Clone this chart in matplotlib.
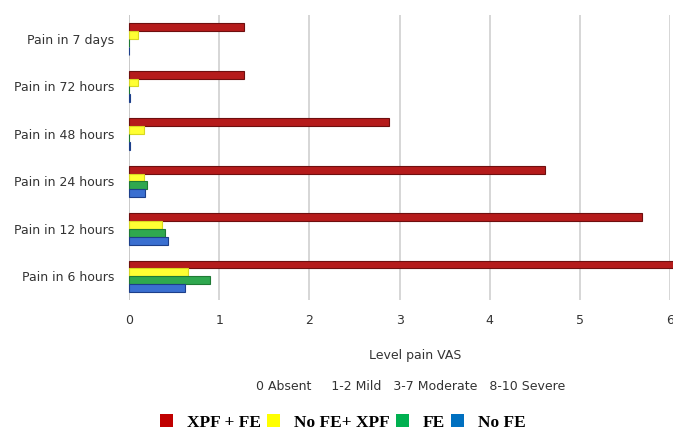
import numpy as np
import matplotlib.pyplot as plt
from matplotlib.patches import Patch

categories = ["Pain in 6 hours", "Pain in 12 hours", "Pain in 24 hours",
              "Pain in 48 hours", "Pain in 72 hours", "Pain in 7 days"]
series = ["XPF + FE", "No FE+ XPF", "FE", "No FE"]
xpf_fe = [6.1, 5.69, 4.61, 2.88, 1.27, 1.27]
no_fe_xpf = [0.65, 0.36, 0.16, 0.16, 0.10, 0.10]
fe = [0.90, 0.40, 0.20, 0.0, 0.0, 0.0]
no_fe = [0.62, 0.43, 0.17, 0.01, 0.01, 0.0]
ticks = [0, 1, 2, 3, 4, 5, 6]

colors = ["#b51b1b", "#ffff33", "#2fa84f", "#3a6fd0"]
edges = ["#6e0f0f", "#d8d820", "#1f7a35", "#1d3f8a"]
legend_colors = ["#c00000", "#ffff00", "#00b050", "#0070c0"]

fig = plt.figure(figsize=(6.73, 4.33), dpi=100)
ax = fig.add_axes([0.192, 0.307, 0.8035, 0.658])

y = np.arange(len(categories))
h = 0.165
values = [xpf_fe, no_fe_xpf, fe, no_fe]
offsets = [1.5, 0.5, -0.5, -1.5]
for vals, off, c, ec in zip(values, offsets, colors, edges):
    ax.barh(y + off * h, vals, height=h, color=c, edgecolor=ec,
            linewidth=0.8, clip_on=False, zorder=3)

ax.set_xlim(0, 6)
ax.set_ylim(-0.5, 5.5)
ax.set_xticks(ticks)
ax.set_yticks(y)
ax.set_yticklabels(categories)
ax.tick_params(axis="both", length=0, labelsize=9, colors="#333333")
ax.tick_params(axis="x", pad=10)
ax.tick_params(axis="y", pad=11)
ax.grid(axis="x", color="#d0d0d0", linewidth=1.2, zorder=0)
for s in ["top", "right", "bottom", "left"]:
    ax.spines[s].set_visible(False)
ax.axvline(0, color="#c8c8c8", linewidth=1.2, zorder=2)

ax.set_xlabel("Level pain VAS", fontsize=9, color="#333333")
ax.xaxis.set_label_coords(0.529, -0.17)
fig.text(0.61, 1 - 387 / 433, "0 Absent     1-2 Mild   3-7 Moderate   8-10 Severe",
         ha="center", va="center", fontsize=9, color="#333333")

handles = [Patch(facecolor=c, edgecolor="none") for c in legend_colors]
fig.legend(handles, series, loc="center", bbox_to_anchor=(0.51, 0.024), ncol=4,
           frameon=False, handlelength=0.75, handleheight=0.75, handletextpad=0.8,
           columnspacing=0.35, borderpad=0,
           prop={"family": "Liberation Serif", "weight": "bold", "size": 12.5})

fig.savefig("out.png", dpi=100)
